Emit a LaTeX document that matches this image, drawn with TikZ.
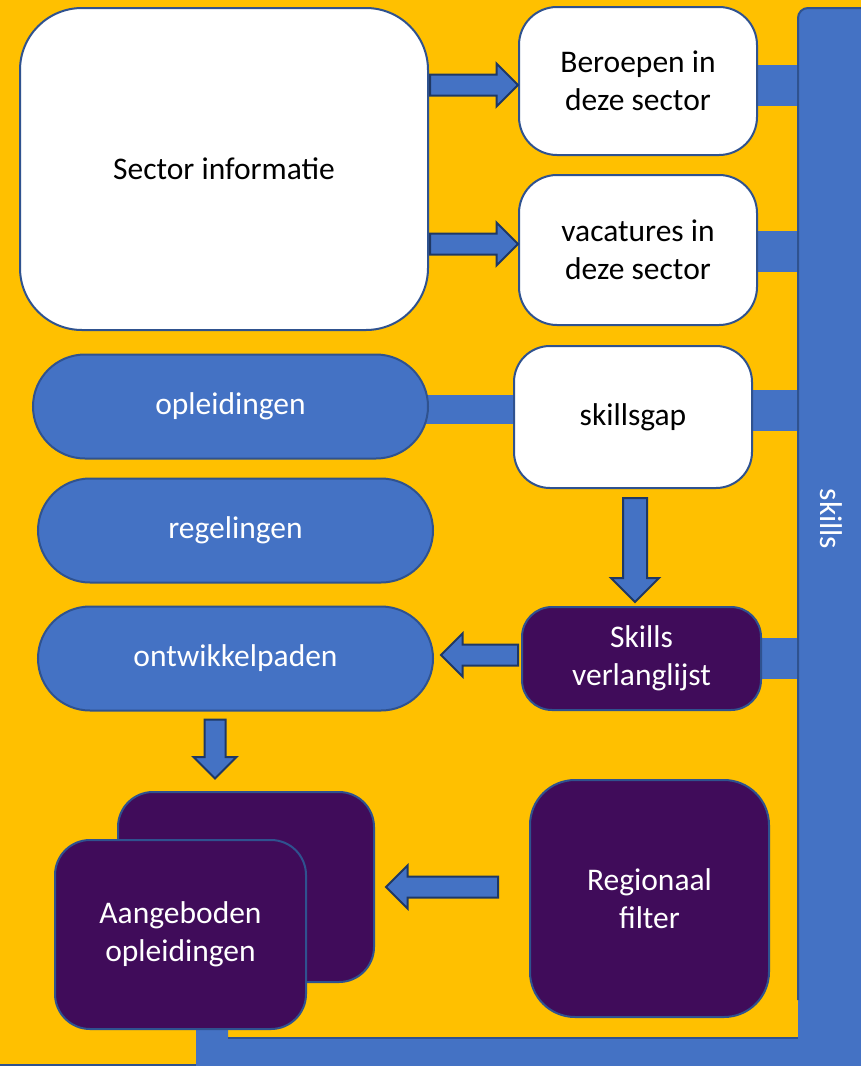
\documentclass[tikz,border=0pt]{standalone}
\usepackage{fontspec}
\setmainfont{Carlito}
\usetikzlibrary{shapes.misc,shapes.arrows,backgrounds}
\definecolor{yellowbg}{HTML}{FFC000}
\definecolor{boxblue}{HTML}{4472C4}
\definecolor{edgeblue}{HTML}{2F528F}
\definecolor{darkpurple}{HTML}{400C5A}
\definecolor{arrowedge}{HTML}{1F3864}

\begin{document}
\begin{tikzpicture}[x=1pt,y=-1pt,
  txt/.style={font=\fontsize{31.5}{38}\selectfont,align=center},
  whitebox/.style={txt,draw=edgeblue,line width=2pt,fill=white,text=black,inner sep=0pt},
  purplebox/.style={txt,draw=edgeblue,line width=2pt,fill=darkpurple,text=white,inner sep=0pt},
  pill/.style={txt,rounded rectangle,draw=edgeblue,line width=2pt,fill=boxblue,text=white,
    minimum width=395pt,minimum height=104pt,inner sep=0pt},
  stub/.style={boxblue,line width=#1},
  blockarrow/.style={single arrow,draw=arrowedge,line width=2pt,fill=boxblue,inner xsep=0pt,
    inner ysep=9.5pt,outer sep=0pt,single arrow head extend=11pt},
  downarrow/.style={blockarrow,shape border rotate=270,inner xsep=9.5pt,inner ysep=0pt}]

\useasboundingbox (0,0) rectangle (861,1066);

\node[fill=boxblue,rounded corners=10pt,minimum width=90pt,
  minimum height=1100pt,anchor=north west,inner sep=0pt] (skills) at (798,8) {};
\draw[edgeblue,line width=2pt,rounded corners=10pt] (798,1000) -- (skills.north west) -- (skills.north east);
\node[txt,text=white,rotate=-90] (skillstekst) at (831,519) {skills};

\node[whitebox,rounded corners=62pt,minimum width=408pt,minimum height=322pt] (sector) at (224,169) {Sector informatie};
\node[whitebox,rounded corners=38pt,minimum width=238pt,minimum height=148pt] (beroepen) at (638,81) {Beroepen in\\deze sector};
\node[whitebox,rounded corners=38pt,minimum width=238pt,minimum height=150pt] (vacatures) at (638,250) {vacatures in\\deze sector};
\node[whitebox,rounded corners=36pt,minimum width=238pt,minimum height=142pt] (skillsgap) at (633,417) {skillsgap};
\node[purplebox,rounded corners=30pt,minimum width=239pt,minimum height=103pt] (verlanglijst) at (641.5,658.5) {Skills\\verlanglijst};
\node[pill] (opleidingen) at (230.5,406.5) {opleidingen};
\node[pill] (regelingen) at (235.5,530.5) {regelingen};
\node[pill] (ontwikkelpaden) at (235.5,658.5) {ontwikkelpaden};
\node[purplebox,rounded corners=35pt,minimum width=256pt,minimum height=190pt] (stapel) at (246,887) {};
\node[purplebox,rounded corners=35pt,minimum width=251pt,minimum height=189pt] (aangeboden) at (180.5,934.5) {Aangeboden\\opleidingen};
\node[purplebox,rounded corners=45pt,minimum width=239pt,minimum height=237pt] (regionaal) at (649.5,898.5) {Regionaal\\filter};

\node[blockarrow,minimum height=88pt,anchor=tip] (pijl1) at ([yshift=-4pt]beroepen.west) {};
\node[blockarrow,minimum height=88pt,anchor=tip] (pijl2) at ([yshift=6pt]vacatures.west) {};
\node[downarrow,inner xsep=11pt,single arrow head extend=12pt,minimum height=104pt,
  anchor=tip] (pijl3) at ([xshift=-6.5pt,yshift=4pt]verlanglijst.north) {};
\node[blockarrow,minimum height=77pt,shape border rotate=180,anchor=tip] (pijl4) at ([xshift=7pt,yshift=3.5pt]ontwikkelpaden.east) {};
\node[downarrow,minimum height=59pt,anchor=tail] (pijl5) at ([xshift=-20.5pt,yshift=-8pt]ontwikkelpaden.south) {};
\node[blockarrow,minimum height=112pt,shape border rotate=180,anchor=tip] (pijl6) at ([xshift=11pt]stapel.east) {};

\begin{pgfonlayer}{background}
\fill[yellowbg] (0,0) rectangle (861,1066);
\fill[boxblue] (861,1038) -- (861,1066) -- (196,1066) -- (196,1030) -- (228,1030)
  -- (228,1038) -- cycle;
\draw[edgeblue,line width=1.5pt] (228,1038) -- (798,1038);
\draw[edgeblue,line width=1.5pt] (0,1065) -- (196,1065);
\draw[stub=41pt] ([yshift=-4.5pt]beroepen.center) -- ([yshift=-4.5pt]beroepen.center -| skills.west);
\draw[stub=41pt] ([yshift=-1.5pt]vacatures.center) -- ([yshift=-1.5pt]vacatures.center -| skills.west);
\draw[stub=41pt] ([yshift=6.5pt]skillsgap.center) -- ([yshift=6.5pt]skillsgap.center -| skills.west);
\draw[stub=41pt] (verlanglijst.center) -- (verlanglijst.center -| skills.west);
\draw[stub=29pt] ([yshift=-3pt]opleidingen.center) -- ([yshift=-3pt]opleidingen.center -| skillsgap.center);
\end{pgfonlayer}

\end{tikzpicture}
\end{document}
